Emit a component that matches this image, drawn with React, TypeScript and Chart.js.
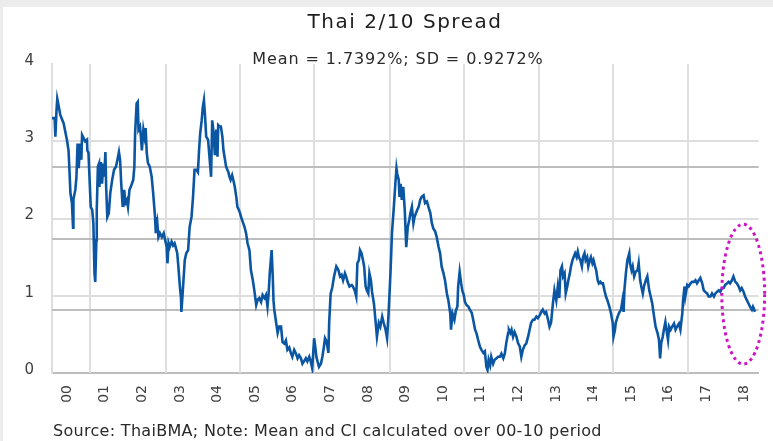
import React, { useEffect, useRef } from "react";
import { Chart, registerables } from "chart.js";

Chart.register(...registerables);

const TITLE = "Thai 2/10 Spread";
const MEAN = 1.7392;
const SD = 0.9272;
const SUBTITLE = `Mean = ${MEAN.toFixed(4)}%; SD = ${SD.toFixed(4)}%`;
const SOURCE = "Source: ThaiBMA; Note: Mean and CI calculated over 00-10 period";

// x axis: decimal years, labels shown as two-digit years
const yearTicks = [2000, 2001, 2002, 2003, 2004, 2005, 2006, 2007, 2008, 2009, 2010, 2011, 2012, 2013, 2014, 2015, 2016, 2017, 2018];
const gridDates = [2000.62, 2002.62, 2004.59, 2006.57, 2008.6, 2010.56, 2012.54, 2014.53, 2016.51];
const yTicks = [0, 1, 2, 3, 4];
const X_MIN = 1999.6;
const X_MAX = 2018.39;

// highlighted recent period (dotted ellipse), in data units
const highlightCenter = [2017.98, 1.02];
const highlightRadius = [0.57, 0.905];

// [decimal year, spread %]
const spread1999to2003: [number, number][] = [
  [1999.6, 3.3], [1999.67, 3.3], [1999.69, 3.06], [1999.72, 3.4], [1999.74, 3.55], [1999.78, 3.45], [1999.82, 3.34], [1999.91, 3.23],
  [2000.0, 3.01], [2000.04, 2.88], [2000.06, 2.67], [2000.09, 2.33], [2000.13, 2.2], [2000.16, 1.88], [2000.17, 2.25], [2000.22, 2.37],
  [2000.25, 2.54], [2000.28, 2.97], [2000.31, 2.65], [2000.35, 2.97], [2000.38, 2.76], [2000.4, 3.08], [2000.44, 3.04], [2000.48, 3.0],
  [2000.53, 3.02], [2000.54, 2.88], [2000.57, 2.85], [2000.6, 2.5], [2000.63, 2.15], [2000.67, 2.11], [2000.7, 1.94], [2000.73, 1.29],
  [2000.75, 1.18], [2000.78, 1.72], [2000.79, 2.11], [2000.82, 2.67], [2000.85, 2.71], [2000.86, 2.41], [2000.9, 2.73], [2000.93, 2.45],
  [2000.97, 2.71], [2000.99, 2.54], [2001.02, 2.86], [2001.04, 2.41], [2001.07, 2.02], [2001.11, 2.07], [2001.15, 2.33], [2001.2, 2.5],
  [2001.25, 2.63], [2001.3, 2.67], [2001.34, 2.76], [2001.38, 2.86], [2001.41, 2.76], [2001.44, 2.46], [2001.48, 2.15], [2001.52, 2.37],
  [2001.55, 2.2], [2001.59, 2.24], [2001.62, 2.15], [2001.66, 2.37], [2001.71, 2.43], [2001.76, 2.5], [2001.79, 2.67], [2001.81, 3.1],
  [2001.85, 3.49], [2001.88, 3.51], [2001.9, 3.15], [2001.94, 3.19], [2001.97, 3.02], [2001.99, 2.88], [2002.03, 3.15], [2002.06, 3.06],
  [2002.09, 3.17], [2002.12, 2.85], [2002.15, 2.72], [2002.2, 2.67], [2002.25, 2.54], [2002.29, 2.33], [2002.34, 2.02], [2002.36, 1.81],
  [2002.4, 1.94], [2002.43, 1.76], [2002.47, 1.81], [2002.52, 1.76], [2002.57, 1.81], [2002.61, 1.72], [2002.65, 1.63], [2002.67, 1.42],
  [2002.7, 1.68], [2002.73, 1.63], [2002.78, 1.7], [2002.82, 1.65], [2002.86, 1.68], [2002.89, 1.63], [2002.93, 1.55], [2002.96, 1.38],
  [2003.0, 1.12], [2003.03, 0.97], [2003.04, 0.79], [2003.07, 1.0], [2003.13, 1.46], [2003.17, 1.55], [2003.22, 1.59], [2003.26, 1.89],
  [2003.31, 2.02], [2003.35, 2.28], [2003.39, 2.63], [2003.44, 2.63], [2003.48, 2.6], [2003.51, 2.88], [2003.54, 3.1], [2003.58, 3.27],
  [2003.61, 3.44], [2003.64, 3.53], [2003.67, 3.32], [2003.7, 3.06], [2003.75, 3.02], [2003.79, 2.78], [2003.83, 2.54], [2003.86, 3.27],
  [2003.9, 3.1], [2003.93, 2.82], [2003.97, 3.15],
];

const spread2004to2008: [number, number][] = [
  [2004.0, 2.8], [2004.02, 3.21], [2004.06, 3.19], [2004.09, 3.19], [2004.13, 3.06], [2004.16, 2.88], [2004.2, 2.76], [2004.23, 2.67],
  [2004.29, 2.6], [2004.32, 2.54], [2004.35, 2.5], [2004.39, 2.56], [2004.43, 2.48], [2004.46, 2.41], [2004.5, 2.28], [2004.53, 2.15],
  [2004.57, 2.11], [2004.6, 2.07], [2004.64, 2.0], [2004.67, 1.96], [2004.72, 1.89], [2004.76, 1.81], [2004.8, 1.68], [2004.85, 1.59],
  [2004.89, 1.33], [2004.94, 1.2], [2004.98, 1.07], [2005.03, 0.88], [2005.07, 0.95], [2005.11, 0.97], [2005.16, 0.92], [2005.2, 1.01],
  [2005.25, 0.97], [2005.29, 1.01], [2005.33, 0.86], [2005.36, 1.03], [2005.39, 1.29], [2005.44, 1.59], [2005.47, 1.25], [2005.49, 0.94],
  [2005.51, 0.82], [2005.56, 0.65], [2005.6, 0.52], [2005.64, 0.6], [2005.69, 0.6], [2005.73, 0.4], [2005.78, 0.38], [2005.82, 0.42],
  [2005.86, 0.3], [2005.91, 0.33], [2005.95, 0.26], [2005.99, 0.21], [2006.04, 0.3], [2006.08, 0.26], [2006.13, 0.19], [2006.17, 0.23],
  [2006.22, 0.19], [2006.26, 0.12], [2006.3, 0.15], [2006.35, 0.19], [2006.39, 0.15], [2006.44, 0.21], [2006.48, 0.15], [2006.52, 0.06],
  [2006.57, 0.45], [2006.6, 0.34], [2006.63, 0.21], [2006.66, 0.15], [2006.7, 0.08], [2006.75, 0.12], [2006.79, 0.21], [2006.83, 0.34],
  [2006.86, 0.45], [2006.9, 0.41], [2006.95, 0.26], [2006.97, 0.65], [2007.01, 1.03], [2007.05, 1.1], [2007.1, 1.25], [2007.16, 1.38],
  [2007.21, 1.34], [2007.26, 1.25], [2007.3, 1.27], [2007.34, 1.2], [2007.39, 1.29], [2007.42, 1.25], [2007.46, 1.18], [2007.51, 1.12],
  [2007.57, 1.14], [2007.6, 1.12], [2007.65, 1.07], [2007.69, 0.99], [2007.72, 1.42], [2007.76, 1.46], [2007.79, 1.59], [2007.83, 1.55],
  [2007.87, 1.46], [2007.9, 1.38], [2007.94, 1.12], [2007.97, 1.07], [2008.01, 1.03], [2008.04, 1.29], [2008.08, 1.2], [2008.11, 1.05],
  [2008.16, 0.9], [2008.2, 0.69], [2008.24, 0.47], [2008.29, 0.65], [2008.33, 0.6], [2008.38, 0.73], [2008.42, 0.65], [2008.47, 0.56],
  [2008.51, 0.45], [2008.55, 0.77], [2008.6, 1.29], [2008.64, 1.81], [2008.69, 2.15], [2008.73, 2.45], [2008.76, 2.65], [2008.78, 2.58],
  [2008.82, 2.5], [2008.84, 2.28], [2008.87, 2.45], [2008.9, 2.24], [2008.94, 2.41], [2008.98, 2.11],
];

const spread2009to2013: [number, number][] = [
  [2009.02, 1.63], [2009.06, 1.89], [2009.1, 1.98], [2009.13, 2.07], [2009.17, 2.15], [2009.21, 1.94], [2009.24, 2.02], [2009.28, 2.07],
  [2009.31, 2.11], [2009.35, 2.15], [2009.39, 2.24], [2009.43, 2.28], [2009.48, 2.3], [2009.52, 2.2], [2009.57, 2.22], [2009.61, 2.15],
  [2009.66, 2.07], [2009.7, 1.94], [2009.74, 1.87], [2009.79, 1.83], [2009.83, 1.76], [2009.88, 1.63], [2009.92, 1.55], [2009.96, 1.38],
  [2010.01, 1.29], [2010.05, 1.2], [2010.1, 1.03], [2010.14, 0.94], [2010.19, 0.77], [2010.21, 0.56], [2010.25, 0.77], [2010.3, 0.69],
  [2010.34, 0.81], [2010.38, 0.86], [2010.4, 1.12], [2010.44, 1.31], [2010.48, 1.16], [2010.51, 1.07], [2010.55, 1.01], [2010.58, 0.92],
  [2010.62, 0.88], [2010.67, 0.86], [2010.71, 0.82], [2010.76, 0.78], [2010.8, 0.69], [2010.85, 0.56], [2010.89, 0.51], [2010.93, 0.43],
  [2010.98, 0.34], [2011.02, 0.3], [2011.07, 0.26], [2011.11, 0.28], [2011.15, 0.08], [2011.18, 0.04], [2011.21, 0.17], [2011.25, 0.1],
  [2011.28, 0.21], [2011.33, 0.12], [2011.37, 0.17], [2011.42, 0.19], [2011.46, 0.21], [2011.51, 0.21], [2011.55, 0.25], [2011.6, 0.19],
  [2011.64, 0.25], [2011.68, 0.39], [2011.73, 0.52], [2011.75, 0.56], [2011.79, 0.52], [2011.82, 0.56], [2011.86, 0.47], [2011.9, 0.53],
  [2011.95, 0.47], [2011.99, 0.39], [2012.04, 0.34], [2012.08, 0.21], [2012.12, 0.3], [2012.17, 0.36], [2012.21, 0.38], [2012.26, 0.47],
  [2012.3, 0.56], [2012.34, 0.65], [2012.39, 0.69], [2012.43, 0.69], [2012.48, 0.73], [2012.52, 0.71], [2012.57, 0.75], [2012.61, 0.79],
  [2012.65, 0.82], [2012.7, 0.77], [2012.74, 0.79], [2012.79, 0.69], [2012.83, 0.6], [2012.87, 0.65], [2012.92, 0.9], [2012.96, 1.07],
  [2013.01, 0.94], [2013.05, 1.12], [2013.09, 0.97], [2013.12, 1.33], [2013.16, 1.38], [2013.19, 1.25], [2013.23, 1.29], [2013.26, 1.03],
  [2013.3, 1.12], [2013.33, 1.2], [2013.37, 1.29], [2013.4, 1.38], [2013.44, 1.46], [2013.47, 1.5], [2013.51, 1.55], [2013.55, 1.5],
  [2013.58, 1.57], [2013.61, 1.5], [2013.65, 1.46], [2013.69, 1.38], [2013.72, 1.5], [2013.76, 1.55], [2013.79, 1.46], [2013.83, 1.5],
  [2013.86, 1.38], [2013.9, 1.46], [2013.93, 1.5], [2013.97, 1.42],
];

const spread2014to2018: [number, number][] = [
  [2014.0, 1.46], [2014.04, 1.38], [2014.07, 1.33], [2014.11, 1.2], [2014.14, 1.16], [2014.18, 1.18], [2014.21, 1.16], [2014.25, 1.16],
  [2014.29, 1.07], [2014.33, 0.99], [2014.37, 0.94], [2014.42, 0.86], [2014.46, 0.78], [2014.51, 0.65], [2014.53, 0.47], [2014.57, 0.56],
  [2014.59, 0.65], [2014.64, 0.73], [2014.68, 0.78], [2014.73, 0.82], [2014.77, 0.94], [2014.8, 0.79], [2014.82, 1.07], [2014.86, 1.29],
  [2014.9, 1.46], [2014.95, 1.55], [2014.97, 1.42], [2015.01, 1.33], [2015.04, 1.38], [2015.08, 1.25], [2015.12, 1.31], [2015.17, 1.33],
  [2015.2, 1.42], [2015.24, 1.2], [2015.27, 1.12], [2015.31, 1.03], [2015.34, 1.12], [2015.39, 1.2], [2015.43, 1.25], [2015.48, 1.07],
  [2015.52, 0.99], [2015.56, 0.9], [2015.61, 0.73], [2015.65, 0.6], [2015.7, 0.52], [2015.74, 0.43], [2015.77, 0.19], [2015.8, 0.39],
  [2015.84, 0.47], [2015.87, 0.56], [2015.91, 0.66], [2015.94, 0.56], [2015.98, 0.43], [2016.01, 0.6], [2016.05, 0.56], [2016.09, 0.6],
  [2016.14, 0.64], [2016.18, 0.56], [2016.22, 0.6], [2016.27, 0.64], [2016.31, 0.56], [2016.36, 0.77], [2016.38, 0.94], [2016.42, 1.12],
  [2016.44, 0.99], [2016.49, 1.14], [2016.53, 1.12], [2016.58, 1.16], [2016.62, 1.18], [2016.67, 1.18], [2016.71, 1.2], [2016.75, 1.16],
  [2016.8, 1.2], [2016.84, 1.23], [2016.89, 1.16], [2016.93, 1.07], [2016.97, 1.05], [2017.02, 1.03], [2017.06, 0.99], [2017.11, 0.99],
  [2017.15, 1.03], [2017.2, 0.99], [2017.24, 1.03], [2017.28, 1.05], [2017.33, 1.07], [2017.37, 1.05], [2017.42, 1.1], [2017.46, 1.1],
  [2017.5, 1.14], [2017.55, 1.16], [2017.59, 1.18], [2017.63, 1.16], [2017.68, 1.2], [2017.72, 1.25], [2017.77, 1.18], [2017.81, 1.16],
  [2017.86, 1.12], [2017.9, 1.07], [2017.94, 1.1], [2017.99, 1.05], [2018.03, 0.99], [2018.08, 0.94], [2018.12, 0.9], [2018.16, 0.86],
  [2018.21, 0.82], [2018.24, 0.86], [2018.26, 0.84], [2018.29, 0.79],
];

const FONT = '"DejaVu Sans", Verdana, sans-serif';
const TICK_COLOR = "#404040";
const GRID_COLOR = "#dedede";
const REF_COLOR = "#bdbdbd";

const decorPlugin = {
  id: "decor",
  beforeDatasetsDraw(chart: any) {
    const { ctx, chartArea: a, scales } = chart;
    const x = scales.x;
    const y = scales.y;
    ctx.save();
    ctx.strokeStyle = GRID_COLOR;
    ctx.lineWidth = 2;
    gridDates.forEach((d) => {
      const px = Math.round(x.getPixelForValue(d));
      ctx.beginPath();
      ctx.moveTo(px, a.top);
      ctx.lineTo(px, a.bottom);
      ctx.stroke();
    });
    ctx.strokeStyle = REF_COLOR;
    ctx.lineWidth = 2;
    [MEAN + SD, MEAN, MEAN - SD].forEach((v) => {
      const py = Math.round(y.getPixelForValue(v));
      ctx.beginPath();
      ctx.moveTo(a.left, py);
      ctx.lineTo(a.right, py);
      ctx.stroke();
    });
    ctx.restore();
  },
  afterDraw(chart: any) {
    const { ctx, scales } = chart;
    const x = scales.x;
    const y = scales.y;
    ctx.save();
    // dotted ellipse around the latest readings
    const cx = x.getPixelForValue(highlightCenter[0]);
    const cy = y.getPixelForValue(highlightCenter[1]);
    const rx = Math.abs(x.getPixelForValue(highlightCenter[0] + highlightRadius[0]) - cx);
    const ry = Math.abs(y.getPixelForValue(highlightCenter[1] + highlightRadius[1]) - cy);
    ctx.strokeStyle = "#cc14c4";
    ctx.lineWidth = 3;
    ctx.setLineDash([3, 3.6]);
    ctx.beginPath();
    ctx.ellipse(cx, cy, rx, ry, 0, 0, Math.PI * 2);
    ctx.stroke();
    ctx.setLineDash([]);

    // texts
    const c: any = ctx;
    c.fillStyle = "#1e1e1e";
    c.textAlign = "center";
    c.textBaseline = "alphabetic";
    c.font = `20px ${FONT}`;
    if ("letterSpacing" in c) c.letterSpacing = "1.5px";
    c.fillText(TITLE, 402, 21);
    c.fillStyle = "#2a2a2a";
    c.font = `16px ${FONT}`;
    if ("letterSpacing" in c) c.letterSpacing = "0.9px";
    c.fillText(SUBTITLE, 395, 57);
    c.textAlign = "left";
    c.font = `16px ${FONT}`;
    if ("letterSpacing" in c) c.letterSpacing = "0.3px";
    c.fillText(SOURCE, 50, 429);
    if ("letterSpacing" in c) c.letterSpacing = "0px";
    ctx.restore();
  },
};

export default function App() {
  const ref = useRef<HTMLCanvasElement | null>(null);

  useEffect(() => {
    if (!ref.current) return;
    const points = [...spread1999to2003, ...spread2004to2008, ...spread2009to2013, ...spread2014to2018].map(
      ([d, v]) => ({ x: d, y: v })
    );
    const chart = new Chart(ref.current, {
      type: "line",
      data: {
        datasets: [
          {
            label: "Thai 2/10 spread",
            data: points,
            borderColor: "#0b56a3",
            borderWidth: 2.6,
            pointRadius: 0,
            tension: 0,
            fill: false,
          },
        ],
      },
      options: {
        animation: false,
        responsive: false,
        devicePixelRatio: 1,
        layout: { padding: { left: 0, right: 11, top: 57, bottom: 0 } },
        plugins: {
          legend: { display: false },
          tooltip: { enabled: false },
          title: { display: false },
        },
        scales: {
          x: {
            type: "linear",
            min: X_MIN,
            max: X_MAX,
            afterBuildTicks: (s: any) => {
              s.ticks = yearTicks.map((v) => ({ value: v }));
            },
            afterFit: (s: any) => {
              s.height = 68;
            },
            grid: { display: false, drawTicks: false },
            border: { display: true, color: REF_COLOR, width: 2 },
            ticks: {
              autoSkip: false,
              minRotation: 90,
              maxRotation: 90,
              padding: 12,
              color: TICK_COLOR,
              font: { family: FONT, size: 14 },
              callback: (v: any) => String(Math.round(Number(v)) % 100).padStart(2, "0"),
            },
          },
          y: {
            type: "linear",
            min: 0,
            max: 4,
            afterBuildTicks: (s: any) => {
              s.ticks = yTicks.map((v) => ({ value: v }));
            },
            afterFit: (s: any) => {
              s.width = 49;
            },
            grid: {
              drawTicks: false,
              lineWidth: 2,
              color: (c: any) =>
                c.tick && c.tick.value > 0 && c.tick.value < 4 ? GRID_COLOR : "rgba(0,0,0,0)",
            },
            border: { display: true, color: GRID_COLOR, width: 2 },
            ticks: {
              padding: 18,
              labelOffset: -3,
              color: TICK_COLOR,
              font: { family: FONT, size: 15 },
              callback: (v: any) => String(v),
            },
          },
        },
      },
      plugins: [decorPlugin],
    });
    return () => chart.destroy();
  }, []);

  return (
    <div
      style={{
        position: "absolute",
        left: 0,
        top: 0,
        width: 773,
        height: 441,
        background: "#ececec",
        overflow: "hidden",
      }}
    >
      <canvas
        ref={ref}
        width={770}
        height={434}
        style={{ position: "absolute", left: 3, top: 7, width: 770, height: 434, background: "#ffffff" }}
      />
    </div>
  );
}
